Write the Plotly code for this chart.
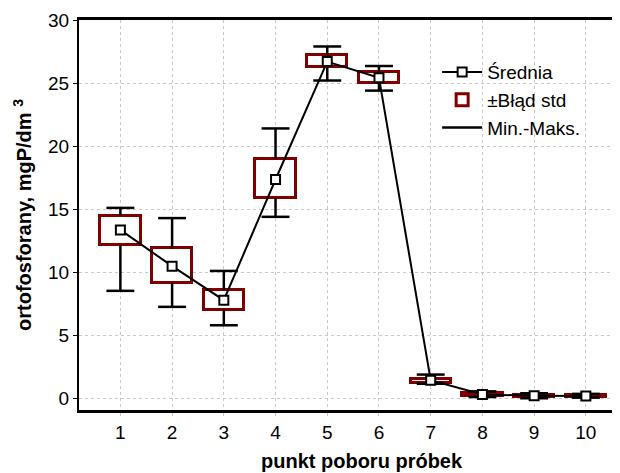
import plotly.graph_objects as go

# ---- data ----
points = [1, 2, 3, 4, 5, 6, 7, 8, 9, 10]
tick_labels = ["1", "2", "3", "4", "5", "6", "7", "8", "9", "10"]
means = [13.35, 10.48, 7.78, 17.35, 26.7, 25.42, 1.43, 0.3, 0.2, 0.18]
se_lo = [12.17, 9.18, 7.04, 15.85, 26.24, 25.02, 1.25, 0.15, 0.12, 0.10]
se_hi = [14.47, 11.88, 8.57, 19.0, 27.2, 25.87, 1.55, 0.40, 0.28, 0.25]
mins = [8.52, 7.25, 5.79, 14.39, 25.2, 24.4, 1.15, 0.10, 0.0, 0.05]
maxs = [15.1, 14.29, 10.1, 21.4, 27.9, 26.35, 1.88, 0.55, 0.40, 0.35]
y_ticks = [0, 5, 10, 15, 20, 25, 30]

FONT = "Liberation Sans, Arial, sans-serif"
CAP = 0.27  # half-width of whisker caps (x units)

# whisker segments built from the data arrays
wx, wy = [], []
for x, lo, hi, mn, mx in zip(points, se_lo, se_hi, mins, maxs):
    wx += [x, x, None, x, x, None, x - CAP, x + CAP, None, x - CAP, x + CAP, None]
    wy += [mx, hi, None, lo, mn, None, mx, mx, None, mn, mn, None]

fig = go.Figure()

fig.add_trace(go.Bar(
    x=points,
    y=[h - l for h, l in zip(se_hi, se_lo)],
    base=se_lo,
    width=0.78,
    marker=dict(color="white", line=dict(color="#800000", width=3)),
    name="±Błąd std",
    legendrank=2,
    hoverinfo="skip",
))

fig.add_trace(go.Scatter(
    x=wx, y=wy,
    mode="lines",
    line=dict(color="black", width=2.5),
    name="Min.-Maks.",
    legendrank=3,
    connectgaps=False,
    hoverinfo="skip",
))

fig.add_trace(go.Scatter(
    x=points, y=means,
    mode="lines+markers",
    line=dict(color="black", width=2),
    marker=dict(symbol="square", size=9, color="white",
                line=dict(color="black", width=2)),
    name="Średnia",
    legendrank=1,
))

# page has an 8px body margin, so the figure is 8px smaller than the window
fig.update_layout(
    width=612, height=465,
    margin=dict(l=71, r=0, t=12, b=63),
    paper_bgcolor="white",
    plot_bgcolor="white",
    font=dict(family=FONT, size=19, color="black"),
    showlegend=True,
    legend=dict(
        x=0.662, y=0.915, xanchor="left", yanchor="top",
        bgcolor="rgba(0,0,0,0)",
        font=dict(family=FONT, size=19, color="black"),
        traceorder="normal",
        tracegroupgap=6,
        itemwidth=40,
    ),
    bargap=0,
    annotations=[dict(
        text="<b>punkt poboru próbek</b>",
        xref="paper", yref="paper",
        x=(362 - 79) / 541, y=-0.13,
        xanchor="center", yanchor="middle",
        showarrow=False,
        font=dict(family=FONT, size=20, color="black"),
    )],
)

fig.update_xaxes(
    range=[0.2, 10.66],
    tickmode="array", tickvals=points, ticktext=tick_labels,
    showline=True, linecolor="black", linewidth=3, mirror=True,
    ticks="outside", ticklen=3, tickcolor="#c0c0c0",
    showgrid=True, gridcolor="#c8c8c8", griddash="dot", gridwidth=1,
    zeroline=False,
    tickfont=dict(family=FONT, size=19),
)

fig.update_yaxes(
    range=[-0.93, 30],
    tickvals=y_ticks,
    showline=True, linecolor="black", linewidth=2,
    ticks="outside", ticklen=4, tickcolor="black",
    showgrid=True, gridcolor="#c8c8c8", griddash="dot", gridwidth=1,
    zeroline=False,
    tickfont=dict(family=FONT, size=19),
    title=dict(text="<b>ortofosforany, mgP/dm <sup>3</sup></b>",
               font=dict(family=FONT, size=20), standoff=11),
)

fig.write_html("out.html")
